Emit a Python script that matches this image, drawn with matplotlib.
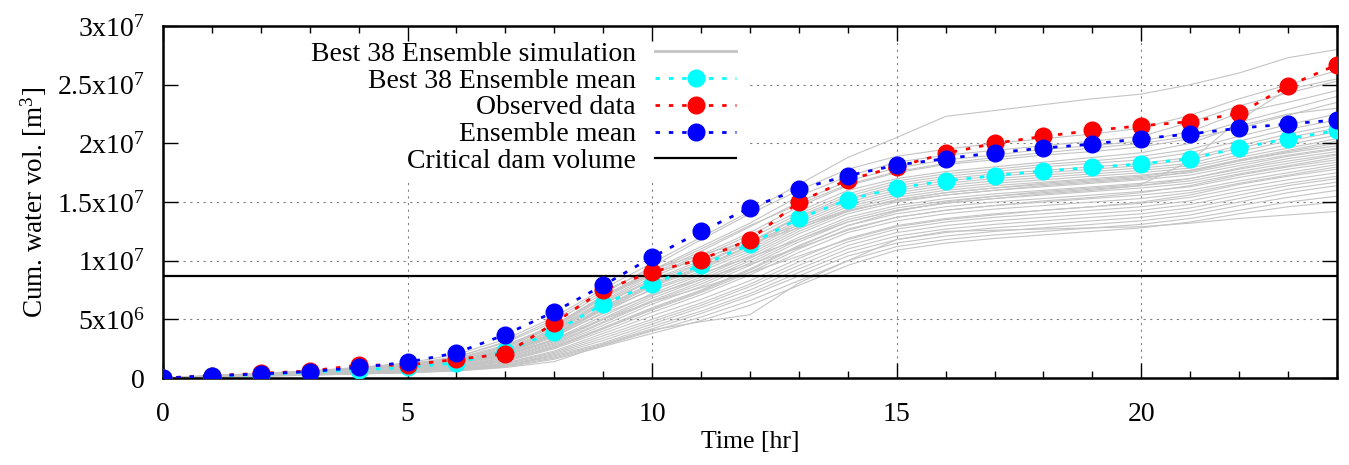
import numpy as np
import matplotlib
matplotlib.use("Agg")
import matplotlib.pyplot as plt
from matplotlib.patches import Rectangle
from matplotlib.ticker import MultipleLocator

plt.rcParams["font.family"] = ["Liberation Serif", "DejaVu Serif"]
plt.rcParams["mathtext.fontset"] = "custom"
plt.rcParams["mathtext.rm"] = "Liberation Serif"
plt.rcParams["mathtext.it"] = "Liberation Serif:italic"
plt.rcParams["mathtext.default"] = "regular"

# ── data (volumes in units of 1e6 m^3) ───────────────────────────────────────
hours = list(range(25))

observed = [0, 0.2, 0.4, 0.6, 1.1, 1.1, 1.6, 2.05, 4.7, 7.5, 9.05, 10.1, 11.8,
            15.0, 16.9, 18.0, 19.15, 20.0, 20.6, 21.1, 21.5, 21.85, 22.55, 24.9, 26.7]
ens_mean = [0, 0.2, 0.35, 0.55, 0.9, 1.35, 2.15, 3.7, 5.65, 7.9, 10.3, 12.5, 14.5,
            16.1, 17.25, 18.15, 18.7, 19.2, 19.6, 19.95, 20.4, 20.8, 21.3, 21.65, 22.0]
best_mean = [0, 0.15, 0.3, 0.5, 0.7, 0.9, 1.3, 2.3, 3.95, 6.3, 8.05, 9.6, 11.4,
             13.6, 15.2, 16.2, 16.8, 17.25, 17.65, 17.95, 18.25, 18.7, 19.6, 20.4, 21.1]
critical_volume = 8.7

ensemble = [
    [0, 0.2, 0.4, 0.6, 0.9, 1.3, 2.0, 3.3, 5.2, 7.6, 9.8, 12.0, 14.2, 16.5, 18.8, 20.5, 22.3, 22.8, 23.3, 23.8, 24.2, 25.0, 26.0, 27.3, 28.0],
    [0, 0.2, 0.4, 0.6, 0.9, 1.2, 1.8, 3.0, 4.8, 7.2, 9.5, 11.8, 14.0, 16.0, 17.8, 18.9, 19.5, 20.0, 20.4, 20.8, 21.3, 22.4, 23.8, 25.0, 26.2],
    [0, 0.2, 0.3, 0.5, 0.8, 1.1, 1.7, 2.8, 4.5, 7.0, 9.2, 11.2, 13.2, 15.5, 17.2, 18.4, 19.0, 19.4, 19.8, 20.2, 20.6, 21.8, 23.2, 24.3, 25.3],
    [0, 0.15, 0.3, 0.5, 0.8, 1.1, 1.6, 2.7, 4.3, 6.8, 8.9, 10.8, 12.9, 15.0, 16.8, 17.9, 18.6, 19.0, 19.5, 19.8, 20.2, 21.0, 22.6, 23.5, 24.5],
    [0, 0.2, 0.35, 0.55, 0.8, 1.0, 1.5, 2.6, 4.4, 6.9, 9.1, 11.0, 13.0, 14.8, 16.5, 17.6, 18.3, 18.8, 19.2, 19.6, 20.0, 20.6, 21.8, 22.9, 24.0],
    [0, 0.15, 0.3, 0.5, 0.7, 1.0, 1.5, 2.5, 4.2, 6.6, 8.8, 10.5, 12.4, 14.6, 16.4, 17.5, 18.2, 18.6, 19.0, 19.3, 19.7, 20.4, 21.3, 22.4, 23.5],
    [0, 0.15, 0.3, 0.5, 0.7, 0.9, 1.4, 2.4, 4.1, 6.5, 8.6, 10.3, 12.2, 14.2, 16.0, 17.0, 17.6, 18.0, 18.4, 18.8, 19.2, 20.0, 21.5, 22.5, 23.0],
    [0, 0.15, 0.3, 0.45, 0.7, 0.9, 1.4, 2.4, 4.0, 6.4, 8.4, 10.0, 11.9, 14.0, 15.7, 16.8, 17.4, 17.8, 18.2, 18.5, 18.9, 19.5, 20.6, 21.6, 22.5],
    [0, 0.15, 0.3, 0.45, 0.65, 0.9, 1.3, 2.3, 3.9, 6.3, 8.3, 9.8, 11.6, 13.8, 15.5, 16.6, 17.2, 17.6, 18.0, 18.3, 18.6, 19.2, 20.2, 21.2, 22.0],
    [0, 0.15, 0.3, 0.45, 0.65, 0.85, 1.3, 2.2, 3.8, 6.1, 8.1, 9.7, 11.5, 13.7, 15.3, 16.4, 17.0, 17.4, 17.7, 18.0, 18.3, 18.8, 19.8, 20.8, 21.6],
    [0, 0.15, 0.3, 0.45, 0.65, 0.85, 1.3, 2.2, 3.7, 6.0, 8.0, 9.5, 11.3, 13.5, 15.2, 16.2, 16.8, 17.2, 17.5, 17.8, 18.1, 18.6, 19.6, 20.5, 21.3],
    [0, 0.15, 0.3, 0.45, 0.6, 0.85, 1.2, 2.1, 3.7, 5.9, 7.9, 9.4, 11.2, 13.3, 15.0, 16.0, 16.6, 17.0, 17.3, 17.6, 17.9, 18.3, 19.3, 20.2, 21.0],
    [0, 0.1, 0.25, 0.4, 0.6, 0.8, 1.2, 2.1, 3.6, 5.8, 7.8, 9.3, 11.0, 13.1, 14.8, 15.8, 16.4, 16.8, 17.1, 17.4, 17.7, 18.1, 19.0, 19.9, 20.7],
    [0, 0.1, 0.25, 0.4, 0.6, 0.8, 1.2, 2.0, 3.5, 5.6, 7.6, 9.1, 10.8, 12.9, 14.6, 15.6, 16.2, 16.6, 16.9, 17.2, 17.5, 17.9, 18.8, 19.6, 20.4],
    [0, 0.15, 0.3, 0.5, 0.75, 1.0, 1.6, 2.7, 4.5, 7.0, 8.9, 10.2, 11.5, 12.8, 14.2, 15.2, 15.8, 16.2, 16.6, 16.9, 17.2, 17.7, 18.6, 19.4, 20.2],
    [0, 0.2, 0.35, 0.55, 0.8, 1.1, 1.8, 3.1, 5.0, 7.4, 9.3, 10.5, 11.7, 13.0, 14.3, 15.1, 15.6, 16.0, 16.4, 16.7, 17.0, 17.6, 18.5, 19.3, 20.0],
    [0, 0.1, 0.2, 0.35, 0.55, 0.75, 1.1, 1.9, 3.3, 5.3, 7.2, 8.8, 10.6, 12.7, 14.4, 15.4, 16.0, 16.4, 16.7, 17.0, 17.3, 17.7, 18.5, 19.2, 19.8],
    [0, 0.1, 0.2, 0.35, 0.5, 0.7, 1.1, 1.9, 3.2, 5.1, 7.0, 8.6, 10.4, 12.5, 14.2, 15.2, 15.8, 16.2, 16.5, 16.8, 17.1, 17.5, 18.3, 19.0, 19.6],
    [0, 0.1, 0.2, 0.35, 0.5, 0.7, 1.0, 1.8, 3.1, 5.0, 6.8, 8.4, 10.2, 12.3, 14.0, 15.0, 15.6, 16.0, 16.3, 16.6, 16.9, 17.3, 18.1, 18.9, 19.5],
    [0, 0.15, 0.3, 0.45, 0.65, 0.9, 1.4, 2.3, 3.8, 5.8, 7.5, 8.9, 10.3, 11.8, 13.3, 14.3, 14.9, 15.3, 15.7, 16.0, 16.4, 17.0, 17.9, 18.7, 19.3],
    [0, 0.1, 0.2, 0.35, 0.5, 0.7, 1.0, 1.7, 3.0, 4.8, 6.6, 8.2, 10.0, 12.0, 13.7, 14.7, 15.3, 15.7, 16.0, 16.3, 16.6, 17.0, 17.8, 18.5, 19.1],
    [0, 0.1, 0.2, 0.3, 0.5, 0.65, 1.0, 1.7, 2.9, 4.7, 6.5, 8.0, 9.8, 11.8, 13.5, 14.5, 15.1, 15.5, 15.8, 16.1, 16.4, 16.8, 17.6, 18.3, 19.0],
    [0, 0.1, 0.2, 0.3, 0.45, 0.65, 0.95, 1.6, 2.8, 4.5, 6.3, 7.8, 9.6, 11.6, 13.3, 14.3, 14.9, 15.3, 15.6, 15.9, 16.2, 16.6, 17.4, 18.1, 18.8],
    [0, 0.15, 0.3, 0.45, 0.65, 0.9, 1.3, 2.2, 3.6, 5.5, 7.1, 8.4, 9.7, 11.1, 12.6, 13.7, 14.3, 14.7, 15.1, 15.4, 15.8, 16.4, 17.3, 18.0, 18.6],
    [0, 0.1, 0.2, 0.3, 0.45, 0.6, 0.9, 1.5, 2.7, 4.3, 6.0, 7.5, 9.3, 11.3, 13.0, 14.0, 14.6, 15.0, 15.3, 15.6, 15.9, 16.3, 17.1, 17.8, 18.4],
    [0, 0.1, 0.2, 0.3, 0.45, 0.6, 0.9, 1.5, 2.6, 4.2, 5.8, 7.3, 9.0, 11.0, 12.7, 13.7, 14.3, 14.7, 15.0, 15.3, 15.6, 16.0, 16.8, 17.5, 18.2],
    [0, 0.1, 0.2, 0.3, 0.4, 0.55, 0.85, 1.4, 2.5, 4.0, 5.6, 7.1, 8.8, 10.7, 12.4, 13.4, 14.0, 14.4, 14.7, 15.0, 15.3, 15.8, 16.6, 17.3, 18.0],
    [0, 0.15, 0.25, 0.4, 0.6, 0.8, 1.2, 2.0, 3.3, 5.0, 6.5, 7.7, 9.0, 10.4, 11.8, 12.9, 13.5, 13.9, 14.3, 14.6, 15.0, 15.6, 16.5, 17.2, 17.8],
    [0, 0.1, 0.2, 0.3, 0.4, 0.55, 0.8, 1.3, 2.3, 3.8, 5.3, 6.7, 8.3, 10.2, 11.9, 13.0, 13.6, 14.0, 14.3, 14.6, 14.9, 15.4, 16.2, 16.9, 17.5],
    [0, 0.1, 0.2, 0.3, 0.4, 0.5, 0.75, 1.25, 2.2, 3.6, 5.0, 6.4, 8.0, 9.9, 11.6, 12.7, 13.3, 13.7, 14.0, 14.3, 14.6, 15.1, 15.9, 16.6, 17.2],
    [0, 0.1, 0.2, 0.3, 0.4, 0.5, 0.75, 1.2, 2.1, 3.4, 4.8, 6.2, 7.8, 9.6, 11.3, 12.4, 13.0, 13.4, 13.7, 14.0, 14.3, 14.8, 15.6, 16.4, 17.0],
    [0, 0.1, 0.2, 0.3, 0.4, 0.5, 0.7, 1.1, 2.0, 3.2, 4.6, 6.0, 7.5, 9.3, 11.0, 12.1, 12.7, 13.1, 13.4, 13.7, 14.0, 14.5, 15.3, 16.1, 16.7],
    [0, 0.1, 0.2, 0.3, 0.4, 0.5, 0.7, 1.1, 1.9, 3.0, 4.4, 5.7, 7.2, 9.0, 10.7, 11.8, 12.4, 12.8, 13.1, 13.4, 13.7, 14.2, 15.0, 15.8, 16.4],
    [0, 0.1, 0.2, 0.3, 0.4, 0.5, 0.7, 1.1, 1.8, 2.9, 4.2, 5.5, 7.0, 8.7, 10.4, 11.5, 12.1, 12.5, 12.8, 13.1, 13.4, 13.9, 14.7, 15.4, 16.0],
    [0, 0.1, 0.2, 0.3, 0.4, 0.5, 0.7, 1.0, 1.7, 2.8, 4.0, 5.2, 6.6, 8.3, 10.0, 11.2, 11.8, 12.2, 12.5, 12.8, 13.1, 13.6, 14.3, 15.0, 15.5],
    [0, 0.1, 0.15, 0.25, 0.35, 0.45, 0.65, 0.95, 1.6, 2.7, 3.8, 4.9, 6.2, 7.9, 9.6, 10.9, 11.5, 11.9, 12.2, 12.5, 12.8, 13.3, 14.0, 14.6, 15.0],
    [0, 0.1, 0.15, 0.25, 0.35, 0.45, 0.6, 0.9, 1.4, 2.8, 4.1, 4.8, 5.4, 8.1, 10.0, 11.8, 12.5, 12.6, 12.7, 12.8, 12.9, 13.2, 13.6, 13.9, 14.2],
    [0, 0.1, 0.2, 0.3, 0.45, 0.6, 0.9, 1.5, 2.6, 4.2, 5.9, 7.4, 9.2, 11.2, 13.0, 14.2, 15.0, 15.5, 15.9, 16.2, 16.5, 18.5, 22.0, 24.6, 25.5],
]

ytick_vals = [0, 5e6, 1e7, 1.5e7, 2e7, 2.5e7, 3e7]
ytick_labels = ["0", "5x10$^{6}$", "1x10$^{7}$", "1.5x10$^{7}$", "2x10$^{7}$",
                "2.5x10$^{7}$", "3x10$^{7}$"]
xtick_vals = [0, 5, 10, 15, 20]

SCALE = 1e6
FS = 20

# ── plot ─────────────────────────────────────────────────────────────────────
fig = plt.figure(figsize=(13.49, 4.65), dpi=100)
ax = fig.add_axes([0.1208, 0.187, 0.8703, 0.757])

# grid (gnuplot style dotted), hidden behind the key area
for xv in xtick_vals[1:]:
    ax.axvline(xv, color="#808080", lw=0.8, dashes=(2, 4), zorder=0)
for yv in ytick_vals[1:-1]:
    ax.axhline(yv, color="#808080", lw=0.8, dashes=(2, 4), zorder=0)
ax.add_patch(Rectangle((0, 0.565), 0.497, 0.435, transform=ax.transAxes,
                       fc="white", ec="none", zorder=0.5))

for i, run in enumerate(ensemble):
    ax.plot(hours, np.array(run) * SCALE, color="#c4c4c4", lw=0.8, zorder=1,
            label="Best 38 Ensemble simulation" if i == 0 else None)

dash = (1.6, 3.2)
ax.plot(hours, np.array(best_mean) * SCALE, color="cyan", lw=2.0, dashes=dash,
        marker="o", ms=12, zorder=3, label="Best 38 Ensemble mean")
ax.plot(hours, np.array(observed) * SCALE, color="red", lw=2.0, dashes=dash,
        marker="o", ms=12, zorder=4, label="Observed data")
ax.plot(hours, np.array(ens_mean) * SCALE, color="blue", lw=2.0, dashes=dash,
        marker="o", ms=12, zorder=5, label="Ensemble mean")
ax.axhline(critical_volume * SCALE, color="black", lw=1.6, zorder=2,
           label="Critical dam volume")

ax.set_xlim(0, 24)
ax.set_ylim(0, 3e7)
ax.set_xticks(xtick_vals)
ax.xaxis.set_minor_locator(MultipleLocator(1))
ax.set_yticks(ytick_vals)
ax.set_yticklabels(ytick_labels)
ax.tick_params(which="major", direction="in", length=11, width=1.0,
               top=True, right=True, labelsize=FS)
ax.tick_params(axis="x", which="major", pad=17)
ax.tick_params(axis="y", which="major", pad=13)
ax.tick_params(which="minor", direction="in", length=5, width=1.0,
               top=True, right=True)
for sp in ax.spines.values():
    sp.set_linewidth(1.8)

ax.set_xlabel("Time [hr]", fontsize=18.5, labelpad=3)
ax.set_ylabel("Cum. water vol. [m$^{3}$]", fontsize=19.5, labelpad=6)

leg = ax.legend(loc="center right", bbox_to_anchor=(0.507, 0.768), fontsize=FS,
                markerfirst=False, frameon=False,
                handlelength=2.9, handletextpad=0.7, labelspacing=0.05,
                borderpad=0.3)
leg.get_lines()[0].set_linewidth(2.0)
leg.set_zorder(10)

fig.savefig("out.png", dpi=100, facecolor="white")
